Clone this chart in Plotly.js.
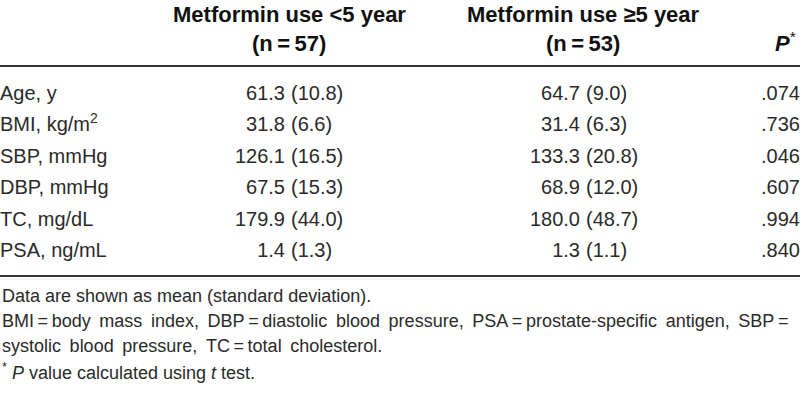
<!DOCTYPE html>
<html><head><meta charset="utf-8">
<script src="https://cdn.plot.ly/plotly-3.0.1.min.js"></script>
<style>html,body{margin:0;padding:0;background:#fff}#c{width:800px;height:404px}</style>
</head><body><div id="c"></div><script>
// ---- data ----
const rowLabels = ["Age, y", "BMI, kg/m<sup>2</sup>", "SBP, mmHg", "DBP, mmHg", "TC, mg/dL", "PSA, ng/mL"];
const meanLt5 = ["61.3", "31.8", "126.1", "67.5", "179.9", "1.4"];
const sdLt5 = ["10.8", "6.6", "16.5", "15.3", "44.0", "1.3"];
const meanGe5 = ["64.7", "31.4", "133.3", "68.9", "180.0", "1.3"];
const sdGe5 = ["9.0", "6.3", "20.8", "12.0", "48.7", "1.1"];
const pValues = [".074", ".736", ".046", ".607", ".994", ".840"];
const groupHeaders = ["Metformin use &lt;5 year", "Metformin use \u22655 year"];
const groupN = ["(n\u2009=\u200957)", "(n\u2009=\u200953)"];
const pHeader = "<b><i>P</i></b><sup>*</sup>";
const footnotes = [
  "Data are shown as mean (standard deviation).",
  "BMI\u2009=\u2009body \u2009mass \u2009index, \u2009DBP\u2009=\u2009diastolic \u2009blood \u2009pressure, \u2009PSA\u2009=\u2009prostate-specific \u2009antigen, \u2009SBP\u2009=",
  "systolic \u2009blood \u2009pressure, \u2009TC\u2009=\u2009total \u2009cholesterol.",
  "<sup>*</sup> <i>P</i> value calculated using <i>t</i> test."
];

// ---- layout constants ----
const W = 800, H = 404;
const rowTopPx = 95, rowStepPx = 31.4;
const bodyFont = {family: "Liberation Sans, Arial, sans-serif", size: 20, color: "#2a2a2a"};
const headFont = {family: "Liberation Sans, Arial, sans-serif", size: 22, color: "#111"};
const footFont = {family: "Liberation Sans, Arial, sans-serif", size: 18, color: "#2a2a2a"};
const idx = rowLabels.map((_, i) => i);
const col = v => idx.map(() => v);
const paren = a => a.map(s => "(" + s + ")");

function textTrace(xpx, texts, pos) {
  return {type: "scatter", mode: "text", x: col(xpx), y: idx, text: texts,
    textposition: pos, textfont: bodyFont, hoverinfo: "skip", showlegend: false, cliponaxis: false};
}
const traces = [
  textTrace(0, rowLabels, "middle right"),
  textTrace(285, meanLt5, "middle left"),
  textTrace(291, paren(sdLt5), "middle right"),
  textTrace(580, meanGe5, "middle left"),
  textTrace(586, paren(sdGe5), "middle right"),
  textTrace(800, pValues, "middle left")
];

const rmin = -rowTopPx / rowStepPx, rmax = rmin + H / rowStepPx;
const py = px => 1 - px / H;
const annotations = [];
const headCenters = [289, 583];
groupHeaders.forEach((t, i) => {
  annotations.push({xref: "x", yref: "paper", x: headCenters[i], y: py(14), text: "<b>" + t + "</b>", showarrow: false, xanchor: "center", yanchor: "middle", font: headFont});
  annotations.push({xref: "x", yref: "paper", x: headCenters[i], y: py(44), text: "<b>" + groupN[i] + "</b>", showarrow: false, xanchor: "center", yanchor: "middle", font: headFont});
});
annotations.push({xref: "x", yref: "paper", x: 798, y: py(42), text: pHeader, showarrow: false, xanchor: "right", yanchor: "middle", font: headFont});
const footY = [296, 321, 346, 371];
footnotes.forEach((t, i) => annotations.push({xref: "x", yref: "paper", x: 0, y: py(footY[i]), text: t, showarrow: false, xanchor: "left", yanchor: "middle", font: footFont}));

const rule = (ypx, c, w) => ({type: "line", xref: "paper", yref: "paper", x0: 0, x1: 1, y0: py(ypx), y1: py(ypx), line: {color: c, width: w}});

Plotly.newPlot("c", traces, {
  width: W, height: H, margin: {l: 0, r: 0, t: 0, b: 0},
  paper_bgcolor: "#fff", plot_bgcolor: "#fff", showlegend: false,
  xaxis: {range: [0, W], visible: false, fixedrange: true},
  yaxis: {range: [rmax, rmin], visible: false, fixedrange: true},
  annotations: annotations,
  shapes: [rule(66, "#333", 2), rule(276, "#333", 2), rule(279, "#e6e6e6", 1)]
}, {staticPlot: true, displayModeBar: false});
</script></body></html>
